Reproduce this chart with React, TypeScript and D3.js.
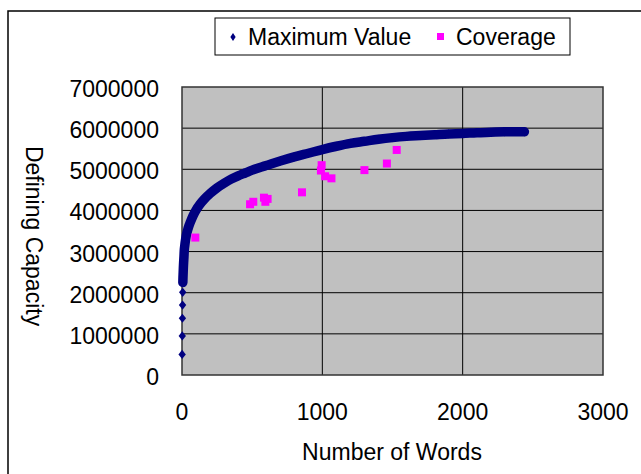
import React from "react";
import { scaleLinear, line, curveMonotoneX, symbol, symbolDiamond } from "d3";

// Maximum Value series (number of words, defining capacity)
const maxWords = [
  1, 2, 3, 4, 5, 6, 7, 8, 9, 10, 12, 14, 16, 20, 25, 30, 40, 50, 60, 80, 100,
  130, 160, 200, 250, 300, 350, 400, 450, 500, 600, 700, 800, 900, 1000, 1100,
  1200, 1300, 1400, 1500, 1600, 1700, 1800, 1900, 2000, 2100, 2200, 2300, 2440,
];
const maxValues = [
  500000, 950000, 1380000, 1700000, 2010000, 2250000, 2370000, 2460000,
  2550000, 2630000, 2760000, 2880000, 3020000, 3150000, 3280000, 3380000,
  3520000, 3630000, 3720000, 3880000, 4010000, 4160000, 4280000, 4410000,
  4550000, 4660000, 4760000, 4840000, 4910000, 4980000, 5090000, 5200000,
  5300000, 5390000, 5480000, 5560000, 5630000, 5680000, 5730000, 5770000,
  5800000, 5820000, 5840000, 5860000, 5870000, 5890000, 5900000, 5910000,
  5910000,
];

// Coverage series
const covWords = [95, 485, 508, 584, 594, 610, 855, 990, 995, 1020, 1065, 1300, 1460, 1530];
const covValues = [
  3340000, 4150000, 4210000, 4310000, 4210000, 4280000, 4440000, 4970000,
  5100000, 4830000, 4780000, 4980000, 5140000, 5470000,
];

const xTicks = [0, 1000, 2000, 3000];
const yTicks = [0, 1000000, 2000000, 3000000, 4000000, 5000000, 6000000, 7000000];

const width = 641;
const height = 474;
const plot = { left: 182, right: 603, top: 87, bottom: 375 };
const font = "'Liberation Sans', Arial, sans-serif";
const navy = "#000080";
const magenta = "#ff00ff";

const xScale = scaleLinear().domain([0, 3000]).range([plot.left, plot.right]);
const yScale = scaleLinear().domain([0, 7000000]).range([plot.bottom, plot.top]);

const maxPoints = maxWords.map((w, i) => ({ w, v: maxValues[i] }));
const covPoints = covWords.map((w, i) => ({ w, v: covValues[i] }));

// the dense part of the series shows as a solid band of markers
const band = line<{ w: number; v: number }>()
  .x((d) => xScale(d.w))
  .y((d) => yScale(d.v))
  .curve(curveMonotoneX);

const diamond = symbol().type(symbolDiamond).size(30)() as string;

const App = () => {
  return (
    <svg
      width={width}
      height={height}
      style={{ position: "absolute", left: 0, top: 0, background: "#fff" }}
      fontFamily={font}
    >
      {/* chart border */}
      <rect x={8} y={11} width={700} height={500} fill="#fff" stroke="#000" strokeWidth={1.5} />

      {/* legend */}
      <rect x={215} y={18} width={355} height={37} fill="#fff" stroke="#000" strokeWidth={1} />
      <path d={diamond} transform="translate(233,37) scale(0.9,0.8)" fill={navy} />
      <text x={248} y={45} fontSize={23}>
        Maximum Value
      </text>
      <rect x={437} y={33} width={7} height={7} fill={magenta} />
      <text x={456} y={45} fontSize={23}>
        Coverage
      </text>

      {/* plot area */}
      <rect
        x={plot.left}
        y={plot.top}
        width={plot.right - plot.left}
        height={plot.bottom - plot.top}
        fill="#c0c0c0"
      />
      {yTicks.slice(1, -1).map((t) => (
        <line key={t} x1={plot.left} x2={plot.right} y1={yScale(t)} y2={yScale(t)} stroke="#000" strokeWidth={1} />
      ))}
      {xTicks.slice(1, -1).map((t) => (
        <line key={t} x1={xScale(t)} x2={xScale(t)} y1={plot.top} y2={plot.bottom} stroke="#000" strokeWidth={1} />
      ))}
      <rect
        x={plot.left}
        y={plot.top}
        width={plot.right - plot.left}
        height={plot.bottom - plot.top}
        fill="none"
        stroke="#333"
        strokeWidth={1.5}
      />

      {/* y ticks */}
      {yTicks.map((t) => (
        <text key={t} x={159} y={yScale(t) + 10} fontSize={23} textAnchor="end">
          {t}
        </text>
      ))}
      {/* x ticks */}
      {xTicks.map((t) => (
        <text key={t} x={xScale(t)} y={420} fontSize={23} textAnchor="middle">
          {t}
        </text>
      ))}

      {/* Maximum Value */}
      <path
        d={band(maxPoints.filter((d) => d.w >= 6)) || ""}
        fill="none"
        stroke={navy}
        strokeWidth={9.5}
        strokeLinecap="round"
        strokeLinejoin="round"
      />
      {maxPoints.map((d) => (
        <path
          key={d.w}
          d={diamond}
          transform={`translate(${xScale(d.w)},${yScale(d.v)}) scale(1.25,0.9)`}
          fill={navy}
        />
      ))}

      {/* Coverage */}
      {covPoints.map((d, i) => (
        <rect key={i} x={xScale(d.w) - 4} y={yScale(d.v) - 4} width={8} height={8} fill={magenta} />
      ))}

      {/* axis titles */}
      <text x={392} y={460} fontSize={23} textAnchor="middle">
        Number of Words
      </text>
      <text
        transform="translate(26,236) rotate(90)"
        fontSize={23}
        textAnchor="middle"
      >
        Defining Capacity
      </text>
    </svg>
  );
};

export default App;
